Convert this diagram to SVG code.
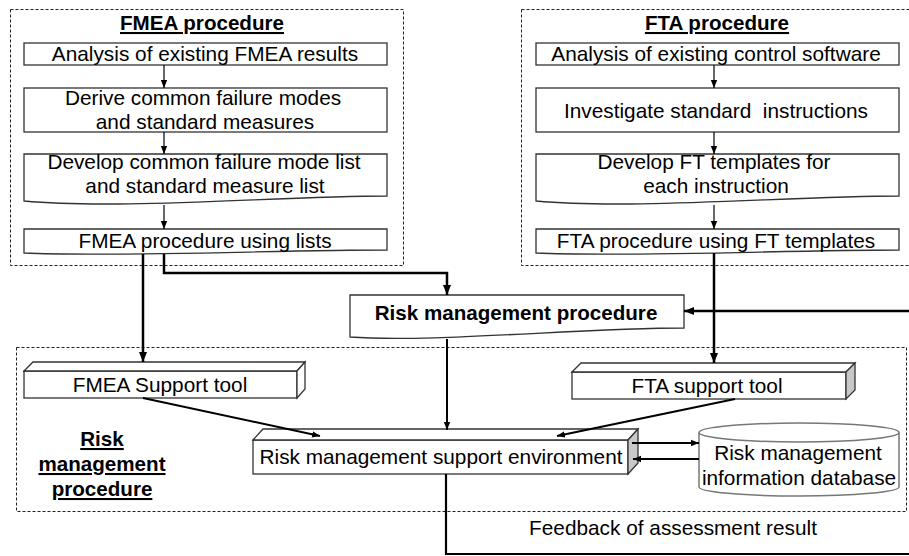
<svg xmlns="http://www.w3.org/2000/svg" width="909" height="556" viewBox="0 0 909 556">
<defs>
<marker id="ah" viewBox="0 0 10 10" refX="10" refY="5" markerWidth="8" markerHeight="8" markerUnits="userSpaceOnUse" orient="auto"><path d="M0,1 L10,5 L0,9 z" fill="#000"/></marker>
<marker id="ahb" viewBox="0 0 10 10" refX="10" refY="5" markerWidth="11" markerHeight="10" markerUnits="userSpaceOnUse" orient="auto"><path d="M0,1 L10,5 L0,9 z" fill="#000"/></marker>
</defs>
<style>
text{font-family:"Liberation Sans",Arial,sans-serif;font-size:20.8px;fill:#000;text-anchor:middle}
.b{font-weight:bold;font-size:20.6px}
.u{text-decoration:underline}
.grp{fill:none;stroke:#222;stroke-width:1;stroke-dasharray:3,2}
.box{fill:#fff;stroke:#333;stroke-width:1.3}
.gray{fill:#c8c8c8;stroke:#333;stroke-width:1.3}
.thin{fill:none;stroke:#000;stroke-width:1.2;marker-end:url(#ah)}
.mid{fill:none;stroke:#000;stroke-width:2;marker-end:url(#ah)}
.thick{fill:none;stroke:#000;stroke-width:2.5;marker-end:url(#ahb)}
.db{fill:#fff;stroke:#777;stroke-width:1.5}
</style>
<rect width="909" height="556" fill="#fff"/>

<g id="groups">
<rect class="grp" x="10.5" y="9.5" width="393" height="256"/>
<rect class="grp" x="521.5" y="9.5" width="393" height="256"/>
<rect class="grp" x="16.5" y="347.5" width="890" height="164"/>
</g>

<g id="titles">
<text class="b u" x="202" y="30">FMEA procedure</text>
<text class="b u" x="717" y="30">FTA procedure</text>
</g>

<g id="label-rmp">
<text class="b u" x="102" y="446">Risk</text>
<text class="b u" x="102" y="471">management</text>
<text class="b u" x="102" y="496">procedure</text>
</g>

<g id="fmea1"><rect class="box" x="24" y="43" width="363" height="22"/><text x="205" y="61">Analysis of existing FMEA results</text></g>
<g id="fmea2"><rect class="box" x="24" y="88" width="363" height="44"/><text x="203" y="105">Derive common failure modes</text><text x="205" y="129">and standard measures</text></g>
<g id="fmea3"><path class="box" d="M24,154 H387 V196 C280,196 120,210 24,201 Z"/><text x="204" y="169">Develop common failure mode list</text><text x="205" y="193">and standard measure list</text></g>
<g id="fmea4"><path class="box" d="M24,229 H387 V250 C280,250 120,257 24,253 Z"/><text x="205" y="248">FMEA procedure using lists</text></g>

<g id="fta1"><rect class="box" x="536" y="43" width="363" height="22"/><text x="716" y="61">Analysis of existing control software</text></g>
<g id="fta2"><rect class="box" x="536" y="88" width="363" height="44"/><text x="716" y="118" xml:space="preserve">Investigate standard  instructions</text></g>
<g id="fta3"><path class="box" d="M536,154 H899 V196 C792,196 632,210 536,201 Z"/><text x="714" y="169">Develop FT templates for</text><text x="716" y="193">each instruction</text></g>
<g id="fta4"><path class="box" d="M536,229 H899 V250 C792,250 632,257 536,253 Z"/><text x="716" y="248">FTA procedure using FT templates</text></g>

<g id="rmp"><path class="box" d="M350,295 H684 V328 C580,328 430,343 350,337 Z"/><text class="b" x="516" y="320">Risk management procedure</text></g>

<g id="fmea-tool">
<rect class="box" x="24" y="371" width="273" height="27"/>
<path class="box" d="M24,371 L33,362 H305 L297,371 Z"/>
<path class="box" d="M297,371 L305,362 V389 L297,398 Z"/>
<text x="160" y="392">FMEA Support tool</text>
</g>

<g id="fta-tool">
<rect class="box" x="572" y="372" width="274" height="27"/>
<path class="box" d="M572,372 L581,363 H855 L846,372 Z"/>
<path class="gray" d="M846,372 L855,363 V390 L846,399 Z"/>
<text x="707" y="393">FTA support tool</text>
</g>

<g id="rmse">
<rect class="box" x="253" y="440" width="375" height="34"/>
<path class="box" d="M253,440 L263,429 H638 L628,440 Z"/>
<path class="gray" d="M628,440 L638,429 V463 L628,474 Z"/>
<text x="441" y="464">Risk management support environment</text>
</g>

<g id="database">
<path class="db" d="M699,432.5 V487 A100,9 0 0 0 899,487 V432.5"/>
<ellipse class="db" cx="799" cy="432.5" rx="100" ry="9.5"/>
<text x="798" y="460">Risk management</text>
<text x="799" y="485">information database</text>
</g>

<g id="feedback-label"><text x="673" y="535">Feedback of assessment result</text></g>

<g id="connectors">
<path class="thin" d="M164,65 V88"/>
<path class="thin" d="M164,132 V154"/>
<path class="thin" d="M164,205 V229"/>
<path class="thin" d="M714,65 V88"/>
<path class="thin" d="M714,132 V154"/>
<path class="thin" d="M714,205 V229"/>
<path class="thick" d="M143,254 V362"/>
<path class="thick" d="M164,254 V273 H447 V295"/>
<path class="thick" d="M714,253 V363"/>
<path class="thick" d="M909,311 H684"/>
<path class="mid" d="M447,339 V430"/>
<path class="mid" d="M143,398 L320,436"/>
<path class="mid" d="M735,399 L557,436"/>
<path class="mid" d="M632,443 H699"/>
<path class="mid" d="M699,459 H633"/>
<path fill="none" stroke="#000" stroke-width="2.2" d="M446,474 V554 H909"/>
</g>
</svg>
